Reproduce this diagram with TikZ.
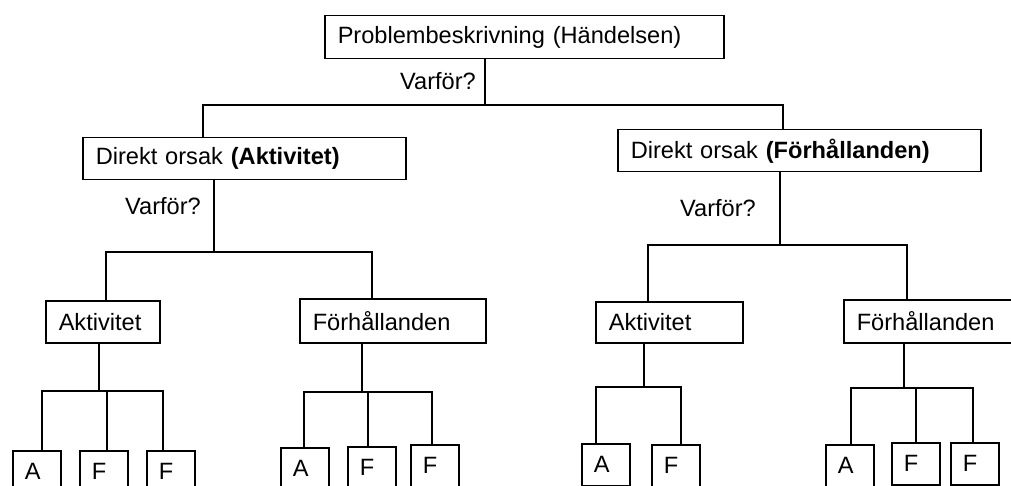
\documentclass[tikz,border=0pt]{standalone}
\usepackage{fontspec}
\setmainfont{Liberation Sans}
\usetikzlibrary{positioning}
\tikzset{
  causebox/.style={
    draw=black, line width=1.5pt, anchor=north west,
    text width=#1, inner xsep=13pt, inner ysep=0pt,
    minimum height=42pt, align=left,
    font=\fontsize{23.6}{28}\selectfont,
  },
  leafbox/.style={causebox=24pt, inner xsep=12pt},
  whylabel/.style={anchor=base west, inner sep=0pt, font=\fontsize{23.6}{28}\selectfont},
  tree/.style={line width=1.5pt, line cap=rect},
}

\begin{document}
\begin{tikzpicture}[x=1pt, y=-1pt]

  \useasboundingbox (0,0) rectangle (1011,486);
  \clip (0,0) rectangle (1011,486);

  % Top level
  \node[causebox=373pt, minimum height=43pt] (top) at (324,15) {Problembeskrivning (Händelsen)};
  \node[whylabel] (why0) at (400,90) {Varför?};

  % Direct causes
  \node[causebox=297pt] (dA) at (82,137) {Direkt orsak \textbf{(Aktivitet)}};
  \node[causebox=337pt] (dF) at (617,129) {Direkt orsak \textbf{(Förhållanden)}};
  \node[whylabel] (whyA) at (125,215) {Varför?};
  \node[whylabel] (whyF) at (680,217) {Varför?};

  % Second level
  \node[causebox=88pt] (aL) at (45,300) {Aktivitet};
  \node[causebox=160pt, minimum height=44pt] (fL) at (299,298) {Förhållanden};
  \node[causebox=121pt, minimum height=41pt] (aR) at (595,301) {Aktivitet};
  \node[causebox=174pt, minimum height=43pt] (fR) at (843,299) {Förhållanden};

  % Leaves
  \node[leafbox] (l1) at (12,450) {A};
  \node[leafbox] (l2) at (79,450) {F};
  \node[leafbox] (l3) at (146,450) {F};
  \node[leafbox] (l4) at (280,447) {A};
  \node[leafbox] (l5) at (347,446) {F};
  \node[leafbox] (l6) at (410,444) {F};
  \node[leafbox] (l7) at (581,443) {A};
  \node[leafbox] (l8) at (651,444) {F};
  \node[leafbox] (l9) at (825,444) {A};
  \node[leafbox] (l10) at (891,442) {F};
  \node[leafbox] (l11) at (950,442) {F};

  % Bus coordinates
  \coordinate (b0) at (485,105);
  \coordinate (b0L) at (203,105);
  \coordinate (b0R) at (783,105);
  \coordinate (bA) at (214,252);
  \coordinate (bAL) at (106,252);
  \coordinate (bAR) at (372,252);
  \coordinate (bF) at (780,245);
  \coordinate (bFL) at (648,245);
  \coordinate (bFR) at (907,245);
  \coordinate (b1) at (99,391);
  \coordinate (b1L) at (42,391);
  \coordinate (b1M) at (107,391);
  \coordinate (b1R) at (163,391);
  \coordinate (b2) at (362,392);
  \coordinate (b2L) at (304,392);
  \coordinate (b2M) at (368,392);
  \coordinate (b2R) at (432,392);
  \coordinate (b3) at (644,387);
  \coordinate (b3L) at (596,387);
  \coordinate (b3R) at (681,387);
  \coordinate (b4) at (904,388);
  \coordinate (b4L) at (851,388);
  \coordinate (b4M) at (916,388);
  \coordinate (b4R) at (973,388);

  % Lines
  \draw[tree] (top.south -| b0) -- (b0);
  \draw[tree] (dA.north -| b0L) -- (b0L) -- (b0R) -- (dF.north -| b0R);

  \draw[tree] (dA.south -| bA) -- (bA);
  \draw[tree] (aL.north -| bAL) -- (bAL) -- (bAR) -- (fL.north -| bAR);
  \draw[tree] (dF.south -| bF) -- (bF);
  \draw[tree] (aR.north -| bFL) -- (bFL) -- (bFR) -- (fR.north -| bFR);

  \draw[tree] (aL.south -| b1) -- (b1);
  \draw[tree] (l1.north -| b1L) -- (b1L) -- (b1R) -- (l3.north -| b1R);
  \draw[tree] (b1M) -- (l2.north -| b1M);

  \draw[tree] (fL.south -| b2) -- (b2);
  \draw[tree] (l4.north -| b2L) -- (b2L) -- (b2R) -- (l6.north -| b2R);
  \draw[tree] (b2M) -- (l5.north -| b2M);

  \draw[tree] (aR.south -| b3) -- (b3);
  \draw[tree] (l7.north -| b3L) -- (b3L) -- (b3R) -- (l8.north -| b3R);

  \draw[tree] (fR.south -| b4) -- (b4);
  \draw[tree] (l9.north -| b4L) -- (b4L) -- (b4R) -- (l11.north -| b4R);
  \draw[tree] (b4M) -- (l10.north -| b4M);

\end{tikzpicture}
\end{document}
